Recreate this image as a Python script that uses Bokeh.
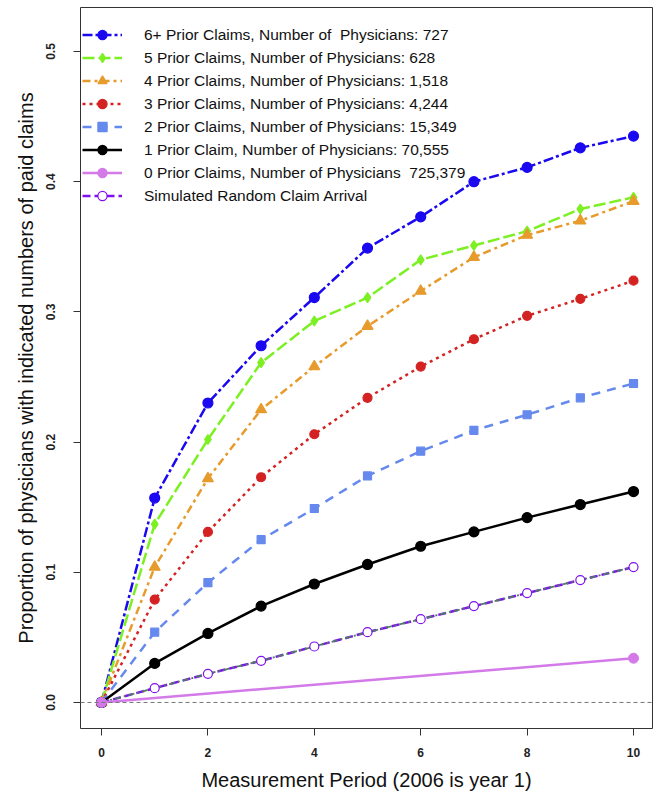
from bokeh.plotting import figure
from bokeh.models import Range1d, Span, Legend, LegendItem, FixedTicker, NumeralTickFormatter
from bokeh.embed import file_html
from bokeh.resources import INLINE

periods = [0, 1, 2, 3, 4, 5, 6, 7, 8, 9, 10]
claims6 = [0, 0.157, 0.230, 0.274, 0.311, 0.349, 0.373, 0.400, 0.411, 0.426, 0.435]
claims5 = [0, 0.137, 0.202, 0.261, 0.293, 0.311, 0.340, 0.351, 0.362, 0.379, 0.388]
claims4 = [0, 0.104, 0.172, 0.225, 0.258, 0.289, 0.316, 0.342, 0.359, 0.370, 0.385]
claims3 = [0, 0.079, 0.131, 0.173, 0.206, 0.234, 0.258, 0.279, 0.297, 0.310, 0.324]
claims2 = [0, 0.054, 0.092, 0.125, 0.149, 0.174, 0.193, 0.209, 0.221, 0.234, 0.245]
claims1 = [0, 0.030, 0.053, 0.074, 0.091, 0.106, 0.120, 0.131, 0.142, 0.152, 0.162]
simulated = [0, 0.011, 0.022, 0.032, 0.043, 0.054, 0.064, 0.074, 0.084, 0.094, 0.104]
zero_periods = [0, 10]
claims0 = [0, 0.034]

labels = [
    "6+ Prior Claims, Number of  Physicians: 727",
    "5 Prior Claims, Number of Physicians: 628",
    "4 Prior Claims, Number of Physicians: 1,518",
    "3 Prior Claims, Number of Physicians: 4,244",
    "2 Prior Claims, Number of Physicians: 15,349",
    "1 Prior Claim, Number of Physicians: 70,555",
    "0 Prior Claims, Number of Physicians  725,379",
    "Simulated Random Claim Arrival",
]
x_ticks = [0, 2, 4, 6, 8, 10]
y_ticks = [0.0, 0.1, 0.2, 0.3, 0.4, 0.5]

FONT = "Liberation Sans"
NAN = float("nan")

p = figure(width=656, height=795, output_backend="svg", toolbar_location=None,
           x_range=Range1d(-0.395, 10.357), y_range=Range1d(-0.02, 0.5338),
           min_border_left=80, min_border_right=4, min_border_top=7, min_border_bottom=67)
p.xgrid.visible = False
p.ygrid.visible = False
p.outline_line_color = "#333333"
p.outline_line_width = 1

for ax in (p.xaxis[0], p.yaxis[0]):
    ax.axis_line_color = None
    ax.major_tick_line_color = "#333333"
    ax.major_tick_out = 7
    ax.major_tick_in = 0
    ax.minor_tick_line_color = None
    ax.major_label_text_font = FONT
    ax.major_label_text_font_size = "12px"
    ax.major_label_text_font_style = "bold"
    ax.major_label_text_color = "#222222"
    ax.axis_label_text_font = FONT
    ax.axis_label_text_font_size = "20px"
    ax.axis_label_text_font_style = "normal"
    ax.axis_label_text_color = "#111111"

p.xaxis.ticker = FixedTicker(ticks=x_ticks)
p.yaxis.ticker = FixedTicker(ticks=y_ticks)
p.yaxis.formatter = NumeralTickFormatter(format="0.0")
p.xaxis.axis_label = "Measurement Period (2006 is year 1)"
p.yaxis.axis_label = "Proportion of physicians with indicated numbers of paid claims"
p.xaxis.major_label_standoff = 12
p.xaxis.axis_label_standoff = 9
p.yaxis.major_label_standoff = 18
p.yaxis.major_label_orientation = "vertical"
p.yaxis.axis_label_standoff = 7

p.add_layout(Span(location=0, dimension="width", line_color="#777777",
                  line_dash="4 3", line_width=1))

items = []

def legend_marker(marker, size, color, fill):
    # renderer with a single NaN point: nothing in the plot, a smaller marker in the legend
    return p.scatter([NAN], [NAN], marker=marker, size=size, line_color=color,
                     fill_color=fill, line_width=1.2)

def series(xs, ys, color, dash, marker, size, lsize, label, width=2.5):
    ln = p.line(xs, ys, line_color=color, line_width=width, line_dash=dash)
    p.scatter(xs, ys, marker=marker, size=size, line_color=color,
              fill_color=color, line_width=1.2)
    lm = legend_marker(marker, lsize, color, color)
    items.append(LegendItem(label=label, renderers=[ln, lm]))

series(periods, claims6, "#1a08f0", "10 3 3 3", "circle", 10, 7, labels[0])
series(periods, claims5, "#7cf022", "12 4", "diamond", 10, 7, labels[1])
series(periods, claims4, "#e69b2c", "8 4 3 4", "triangle", 11, 8, labels[2])
series(periods, claims3, "#d42222", "3 4", "circle", 9, 6, labels[3])
series(periods, claims2, "#6689ee", "9 7", "square", 8, 6, labels[4])
series(periods, claims1, "#000000", "solid", "circle", 10, 8, labels[5])

sim_line = p.line(periods, simulated, line_color="#8010ee", line_width=2.5, line_dash="8 4")
p.line(periods, simulated, line_color="#4e7d63", line_width=1.8, line_dash="6 3 2 3")
p.scatter(periods, simulated, marker="circle", size=9, line_color="#8010ee",
          fill_color="white", line_width=1.2)
sim_lm = legend_marker("circle", 7, "#8010ee", "white")

z_line = p.line(zero_periods, claims0, line_color="#d37ae8", line_width=2.5)
p.scatter(zero_periods, claims0, marker="circle", size=10, line_color="#d37ae8",
          fill_color="#d37ae8")
z_lm = legend_marker("circle", 8, "#d37ae8", "#d37ae8")

items.insert(6, LegendItem(label=labels[6], renderers=[z_line, z_lm]))
items.append(LegendItem(label=labels[7], renderers=[sim_line, sim_lm]))

legend = Legend(items=items, location=(2, 521), margin=0, padding=5, spacing=0,
                glyph_width=40, glyph_height=23, label_height=23, label_standoff=22,
                label_text_font=FONT, label_text_font_size="15.5px", label_text_color="#111111",
                background_fill_alpha=0, border_line_color=None)
p.add_layout(legend)

open("out.html", "w").write(file_html(p, INLINE))
